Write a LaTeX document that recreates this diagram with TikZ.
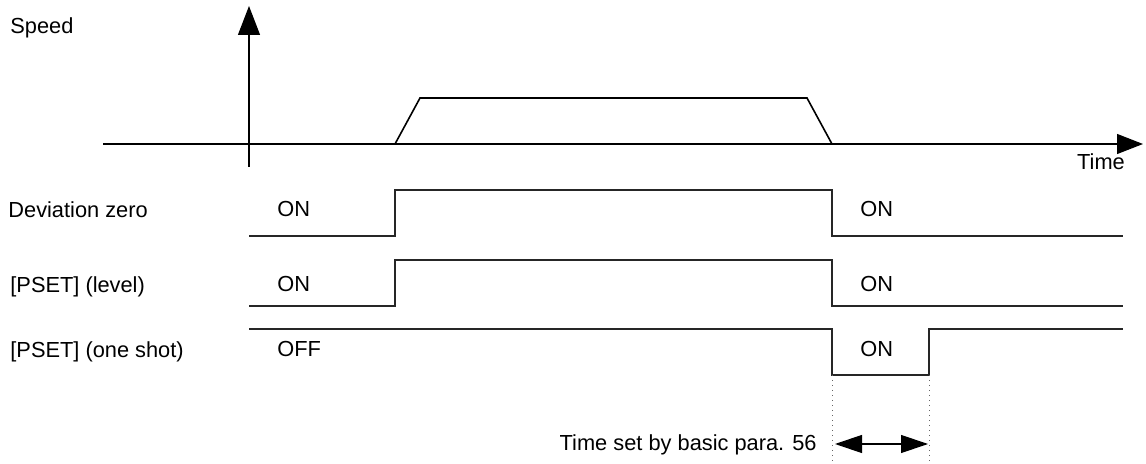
\documentclass[tikz,border=0pt]{standalone}
\usepackage{fontspec}
\setmainfont{Liberation Sans}
\usetikzlibrary{arrows.meta}

\begin{document}
\begin{tikzpicture}[x=0.5pt, y=-0.5pt,
  every node/.style={font=\fontsize{10.9}{13}\selectfont, inner sep=0pt},
  axis/.style={line width=0.6pt},
  profile/.style={line width=0.8pt},
  signal/.style={line width=0.55pt, draw=black!85},
  guide/.style={dotted, line width=0.5pt, draw=black!60}]
  \useasboundingbox (0,0) rectangle (1146,464);

  % axes
  \coordinate (ystart) at (249,167);
  \coordinate (yend) at (249,6);
  \coordinate (xstart) at (103,144);
  \coordinate (xend) at (1143,144);
  \draw[axis, -{Triangle[length=14.5pt, width=11pt]}] (ystart) -- (yend);
  \draw[axis, -{Triangle[length=13pt, width=10pt]}] (xstart) -- (xend);
  \node[anchor=base west] (speed) at (10,34) {Speed};
  \node[anchor=base] (time) at (1101,170) {Time};

  % speed profile
  \draw[profile] (395,144) -- (420,98) -- (807,98) -- (832,144);

  % deviation zero
  \node[anchor=base west] (devzero) at (8,218) {Deviation zero};
  \draw[signal] (249,236) -- (395,236) -- (395,190) -- (832,190) -- (832,236) -- (1123,236);
  \node[anchor=base west] (devon1) at (277,217) {ON};
  \node[anchor=base west] (devon2) at (860,217) {ON};

  % pset level
  \node[anchor=base west] (psetlevel) at (10,293) {[PSET] (level)};
  \draw[signal] (249,306) -- (395,306) -- (395,260) -- (832,260) -- (832,306) -- (1123,306);
  \node[anchor=base west] (levon1) at (277,292) {ON};
  \node[anchor=base west] (levon2) at (860,292) {ON};

  % pset one shot
  \node[anchor=base west] (psetshot) at (10,358) {[PSET] (one shot)};
  \draw[signal] (249,329) -- (832,329) -- (832,375) -- (929,375) -- (929,329) -- (1123,329);
  \node[anchor=base west] (shotoff) at (277,357) {OFF};
  \node[anchor=base west] (shoton) at (860,357) {ON};

  % pulse width
  \coordinate (pstart) at (832,375);
  \coordinate (pend) at (929,375);
  \coordinate (pstartlow) at (832,463);
  \coordinate (pendlow) at (929,463);
  \draw[guide] (pstart) -- (pstartlow);
  \draw[guide] (pend) -- (pendlow);
  \coordinate (wleft) at (835,444);
  \coordinate (wright) at (928,444);
  \draw[axis, {Triangle[length=13.5pt, width=9pt]}-{Triangle[length=13.5pt, width=9pt]}] (wleft) -- (wright);
  \node[anchor=base east] (pwidth) at (817,451) {Time set by basic para. 56};
\end{tikzpicture}
\end{document}
